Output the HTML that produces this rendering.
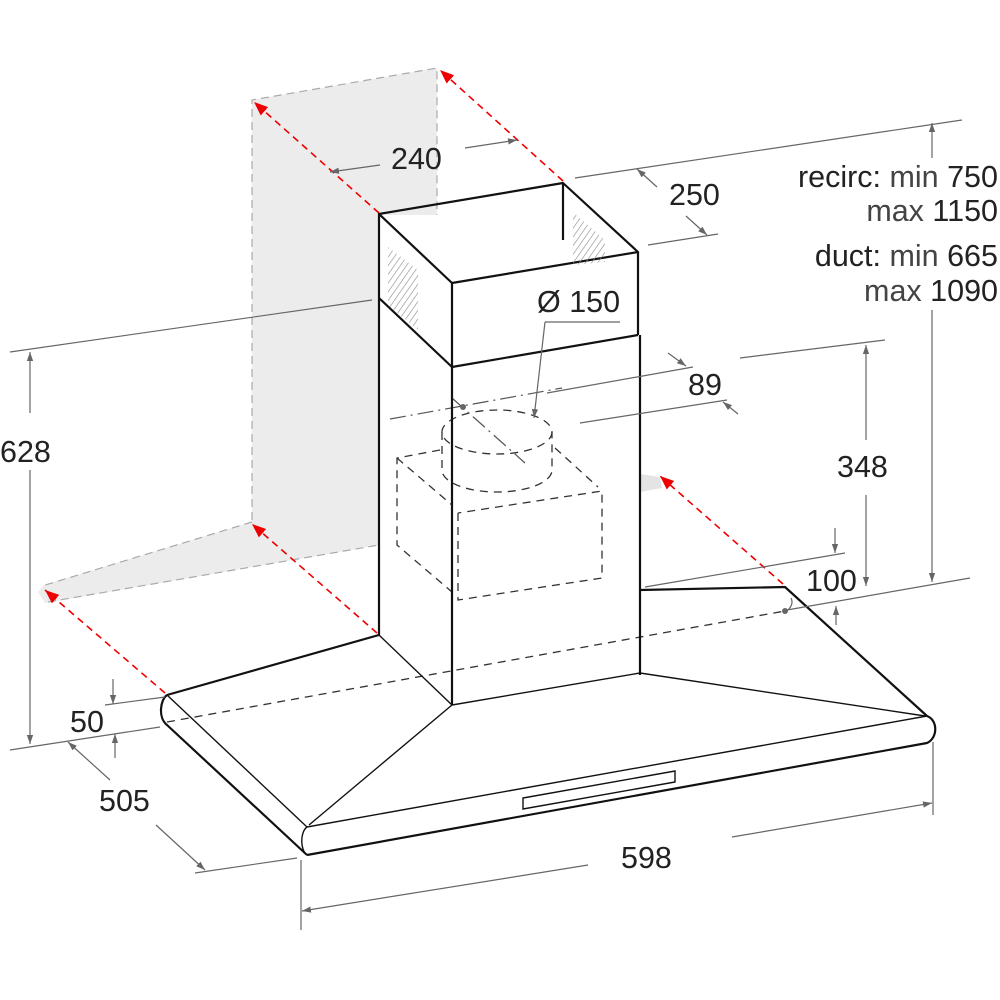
<!DOCTYPE html>
<html><head><meta charset="utf-8"><style>
html,body{margin:0;padding:0;background:#fff}
svg{display:block}
text{font-family:"Liberation Sans",Arial,sans-serif;font-size:30.5px;fill:#222}
.g{fill:#444}
</style></head><body>
<svg width="1000" height="1000" viewBox="0 0 1000 1000" xmlns="http://www.w3.org/2000/svg">
<defs>
<marker id="ag" viewBox="0 0 10 10" refX="10" refY="5" markerWidth="9" markerHeight="9" markerUnits="userSpaceOnUse" orient="auto-start-reverse"><path d="M0,1.5 L10,5 L0,8.5z" fill="#666"/></marker>
<marker id="ar" viewBox="0 0 10 10" refX="10" refY="5" markerWidth="14" markerHeight="14" markerUnits="userSpaceOnUse" orient="auto"><path d="M0,1 L10,5 L0,9z" fill="#e00"/></marker>
<pattern id="hat" width="5" height="5" patternUnits="userSpaceOnUse" patternTransform="rotate(35)"><line x1="0" y1="0" x2="0" y2="5" stroke="#888" stroke-width="1.2"/></pattern>
</defs>

<polygon points="252,100 437,68 437,215 379,215 379,545 45,603 38,592 44,585 252,522" fill="#ececec"/>
<polyline points="252,520 252,100 437,68 437,215" fill="none" stroke="#aaa" stroke-width="1.2" stroke-dasharray="8,5"/>
<polyline points="252,522 42,586" fill="none" stroke="#aaa" stroke-width="1.2" stroke-dasharray="8,5"/>
<polyline points="48,602 379,545" fill="none" stroke="#aaa" stroke-width="1.2" stroke-dasharray="8,5"/>
<path d="M640,474 L660,477 L662,488 L640,492z" fill="#e4e4e4"/>

<g stroke="#e00" stroke-width="1.6" stroke-dasharray="7,5" fill="none">
<line x1="379" y1="213" x2="254" y2="102" marker-end="url(#ar)"/>
<line x1="563" y1="181" x2="440" y2="70" marker-end="url(#ar)"/>
<line x1="377" y1="633" x2="252" y2="524" marker-end="url(#ar)"/>
<line x1="165" y1="693" x2="45" y2="590" marker-end="url(#ar)"/>
<line x1="783" y1="584" x2="660" y2="476" marker-end="url(#ar)"/>
</g>

<g stroke="#333" stroke-width="1.3" fill="none" stroke-dasharray="8,6">
<ellipse cx="497" cy="432" rx="55" ry="22"/>
<path d="M442,432 L442,470 A55,22 0 0 0 552,470 L552,432"/>
<polyline points="440,450 397,458 397,545 452,592"/>
<polyline points="458,513 458,600 602,578 602,491 458,513"/>
<line x1="555" y1="448" x2="598" y2="487"/>
<line x1="397" y1="458" x2="452" y2="505"/>
<line x1="167" y1="722" x2="785" y2="611"/>
</g>
<g stroke="#555" stroke-width="1.2" fill="none" stroke-dasharray="16,5,2,5">
<line x1="390" y1="419" x2="562" y2="388"/>
<line x1="452" y1="398" x2="525" y2="463"/>
</g>
<circle cx="463" cy="407" r="3" fill="#666"/>
<circle cx="785" cy="611" r="3" fill="#666"/>

<g stroke="#111" stroke-width="2.2" fill="none" stroke-linejoin="round">
<polygon points="379,214 563,183 638,252 452,283"/>
<line x1="563" y1="183" x2="563" y2="240"/>
<polyline points="379,214 379,635"/>
<polyline points="452,283 452,367"/>
<polyline points="638,252 638,335"/>
<polyline points="379,298 452,367"/>
<line x1="452" y1="367" x2="638" y2="335"/>
<line x1="452" y1="367" x2="452" y2="705"/>
<line x1="640" y1="335" x2="640" y2="675"/>
<polyline points="640,590 785,587 927,716"/>
<polyline points="379,635 167,695"/>
<path d="M167,695 C160,700 158,718 167,725 L307,855"/>
<path d="M307,855 L927,743 C938,738 938,720 927,716"/>
</g>
<g stroke="#111" stroke-width="1.4" fill="none">
<line x1="379" y1="635" x2="452" y2="705"/>
<line x1="452" y1="705" x2="640" y2="673"/>
<line x1="452" y1="705" x2="309" y2="825"/>
<line x1="640" y1="673" x2="925" y2="716"/>
<line x1="167" y1="695" x2="307" y2="827"/>
<line x1="307" y1="827" x2="927" y2="716"/>
<path d="M307,827 C300,832 300,850 307,855"/>
<polygon points="523,798 675,771 675,782 523,809"/>
</g>
<polygon points="388,247 418,270 418,330 388,305" fill="url(#hat)"/>
<polygon points="573,212 605,240 605,262 573,265" fill="url(#hat)"/>

<g stroke="#666" stroke-width="1.2" fill="none">
<line x1="380" y1="165" x2="330" y2="172" marker-end="url(#ag)"/>
<line x1="465" y1="148" x2="517" y2="140" marker-end="url(#ag)"/>
<line x1="575" y1="178" x2="962" y2="120"/>
<line x1="648" y1="245" x2="718" y2="234"/>
<line x1="657" y1="187" x2="637" y2="169" marker-end="url(#ag)"/>
<line x1="686" y1="216" x2="707" y2="235" marker-end="url(#ag)"/>
<line x1="932" y1="158" x2="932" y2="123" marker-end="url(#ag)"/>
<line x1="932" y1="310" x2="932" y2="582" marker-end="url(#ag)"/>
<line x1="10" y1="352" x2="372" y2="300"/>
<line x1="30" y1="352" x2="30" y2="413" marker-start="url(#ag)"/>
<line x1="30" y1="470" x2="30" y2="744" marker-end="url(#ag)"/>
<line x1="10" y1="750" x2="160" y2="727"/>
<line x1="105" y1="705" x2="165" y2="697"/>
<line x1="113" y1="679" x2="113" y2="704" marker-end="url(#ag)"/>
<line x1="115" y1="758" x2="115" y2="734" marker-end="url(#ag)"/>
<line x1="110" y1="780" x2="68" y2="742" marker-end="url(#ag)"/>
<line x1="156" y1="825" x2="205" y2="870" marker-end="url(#ag)"/>
<line x1="195" y1="873" x2="297" y2="858"/>
<line x1="301" y1="860" x2="301" y2="930"/>
<line x1="933" y1="742" x2="933" y2="815"/>
<line x1="588" y1="865" x2="302" y2="911" marker-end="url(#ag)"/>
<line x1="732" y1="837" x2="932" y2="803" marker-end="url(#ag)"/>
<line x1="547" y1="393" x2="693" y2="367"/>
<line x1="740" y1="358" x2="885" y2="340"/>
<line x1="580" y1="423" x2="727" y2="400"/>
<line x1="668" y1="353" x2="686" y2="366" marker-end="url(#ag)"/>
<line x1="738" y1="414" x2="723" y2="402" marker-end="url(#ag)"/>
<line x1="866" y1="345" x2="866" y2="440" marker-start="url(#ag)"/>
<line x1="866" y1="495" x2="866" y2="586" marker-end="url(#ag)"/>
<line x1="645" y1="587" x2="845" y2="553"/>
<line x1="787" y1="610" x2="970" y2="578"/>
<line x1="835" y1="528" x2="835" y2="553" marker-end="url(#ag)"/>
<line x1="836" y1="625" x2="836" y2="606" marker-end="url(#ag)"/>
<path d="M788,610 C792,606 793,602 791,598"/>
<line x1="545" y1="322" x2="620" y2="322"/>
<line x1="545" y1="322" x2="534" y2="418" marker-end="url(#ag)"/>
</g>

<text x="391" y="169">240</text>
<text x="669" y="205">250</text>
<text x="537" y="312">Ø 150</text>
<text x="688" y="395">89</text>
<text x="837" y="477">348</text>
<text x="806" y="591">100</text>
<text x="0" y="462">628</text>
<text x="70" y="732">50</text>
<text x="99" y="811">505</text>
<text x="621" y="868">598</text>
<text x="998" y="187" text-anchor="end">recirc: <tspan class="g">min</tspan> 750</text>
<text x="998" y="221" text-anchor="end"><tspan class="g">max</tspan> 1150</text>
<text x="998" y="266" text-anchor="end">duct: <tspan class="g">min</tspan> 665</text>
<text x="998" y="301" text-anchor="end"><tspan class="g">max</tspan> 1090</text>
</svg>
</body></html>
